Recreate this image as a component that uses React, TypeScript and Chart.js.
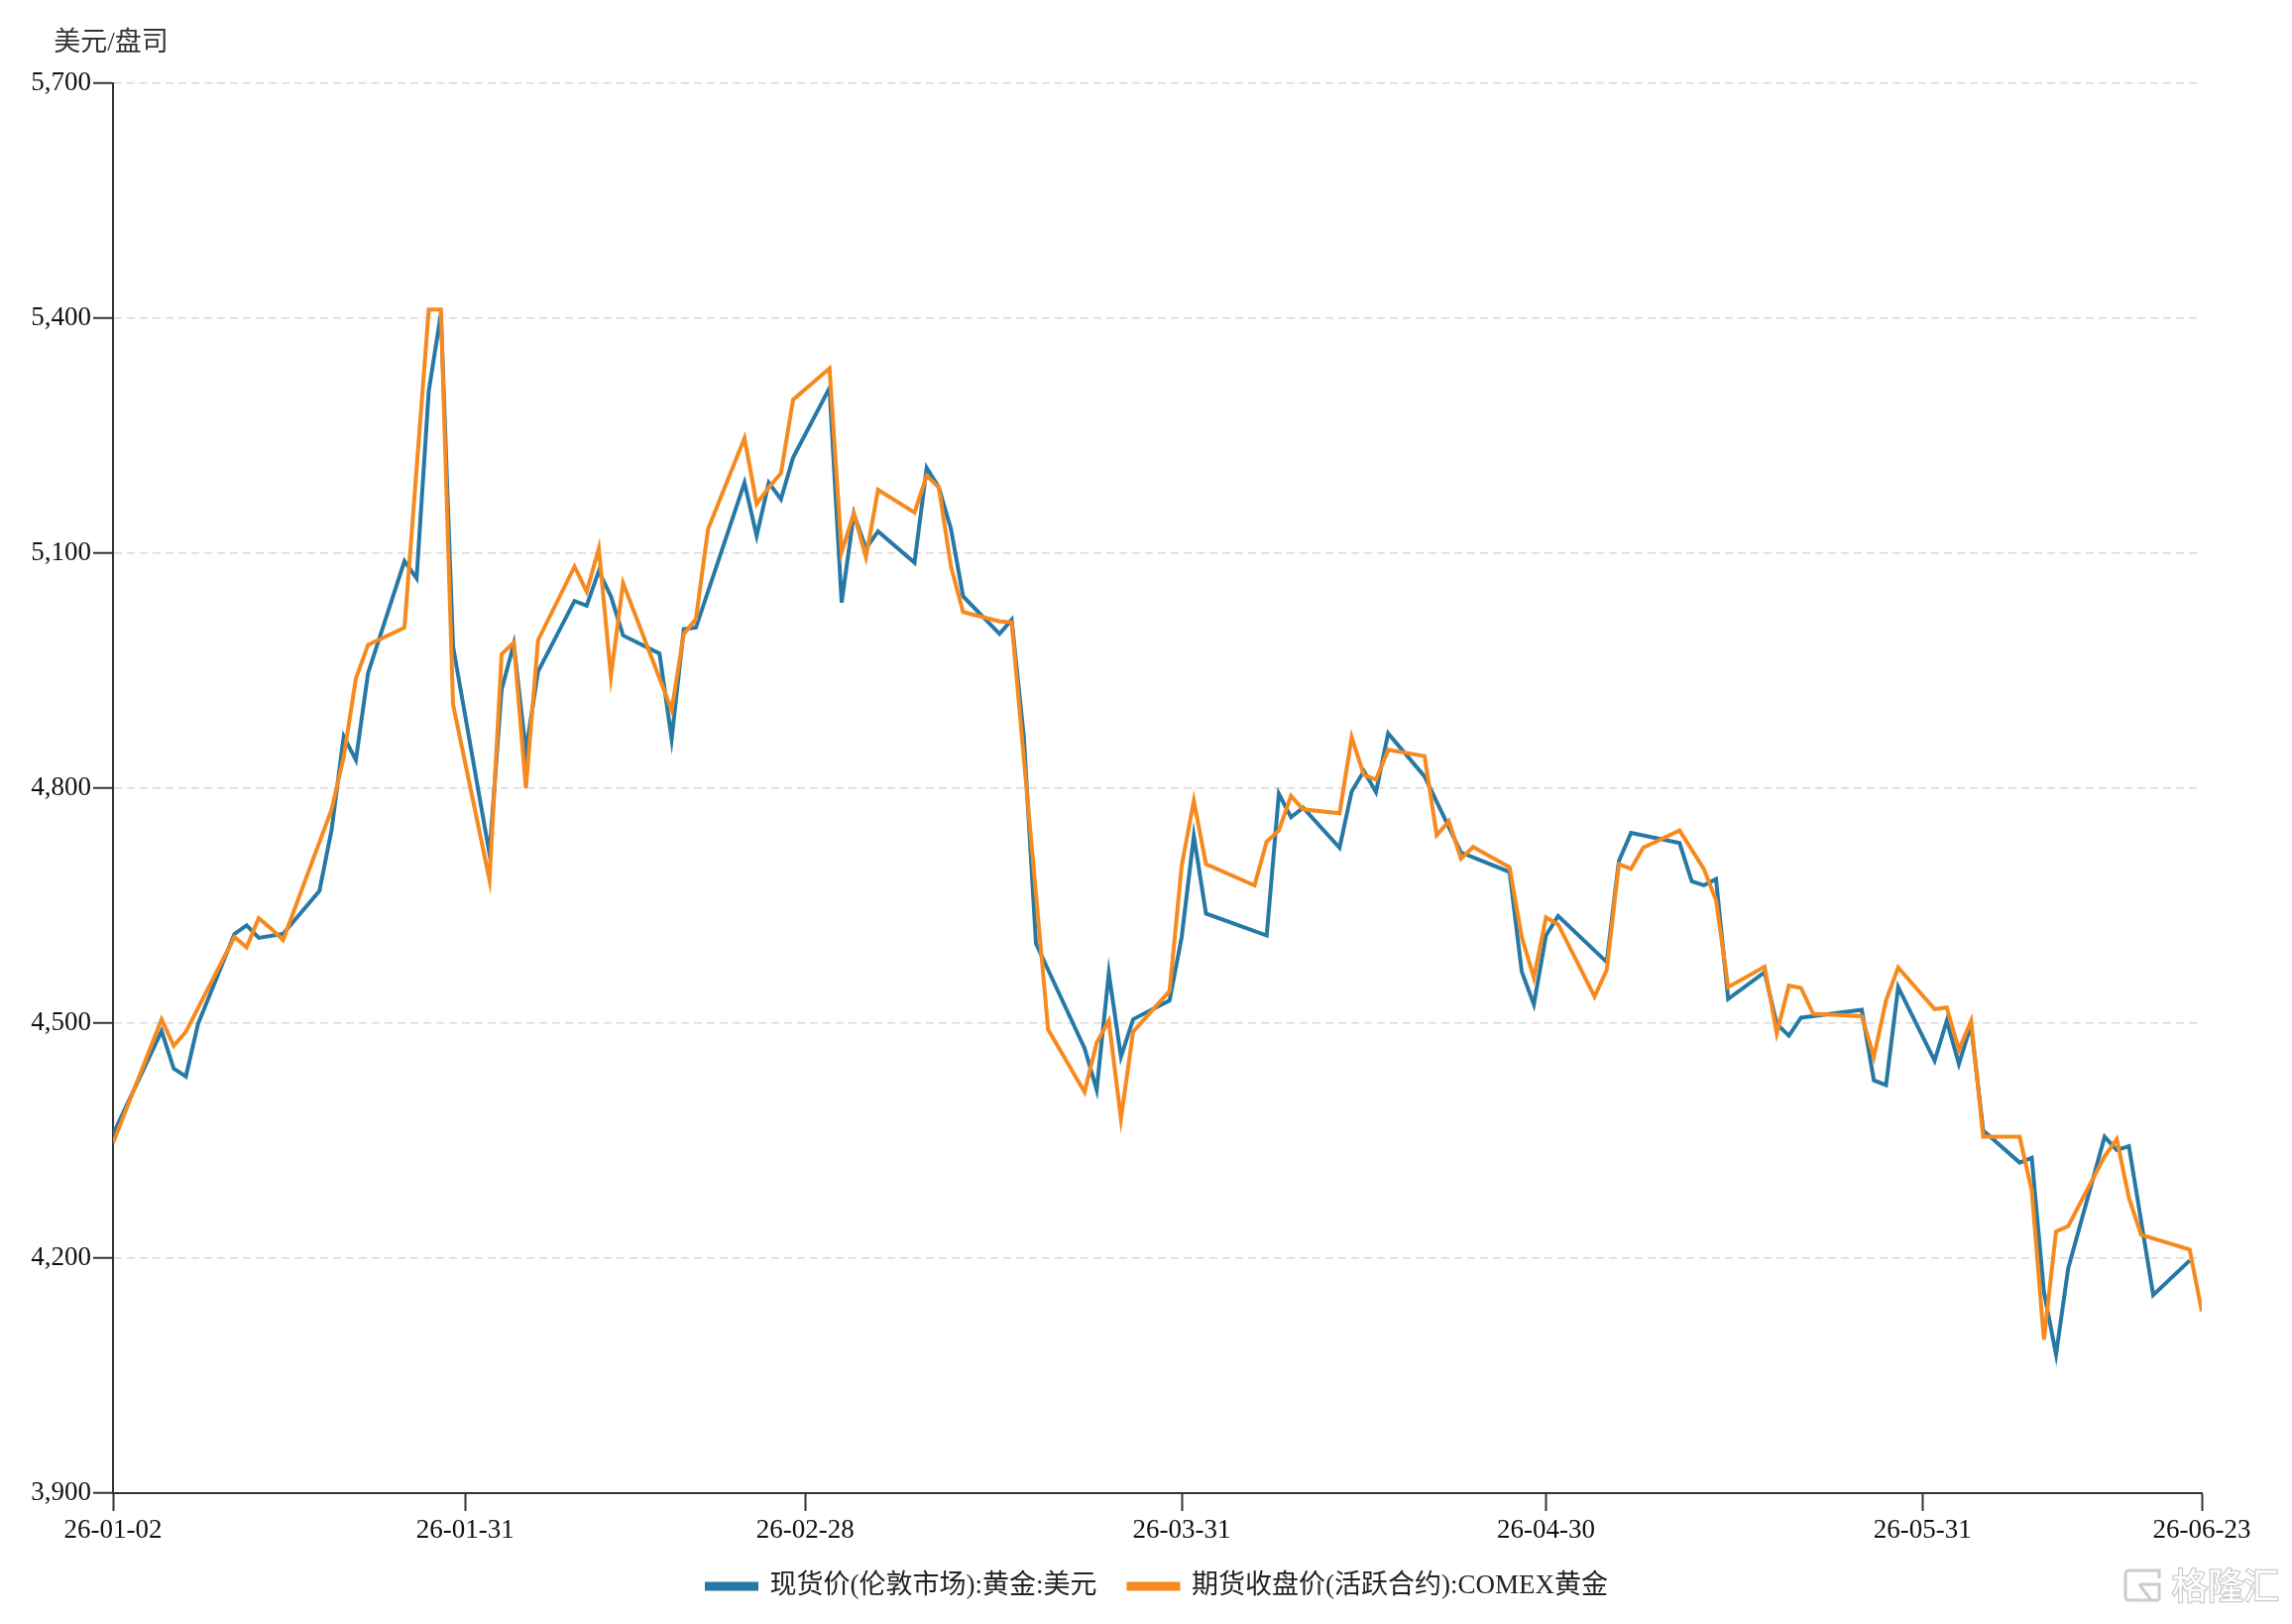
import React, { useEffect, useRef } from 'react';
import { Chart, registerables } from 'chart.js';

Chart.register(...registerables);

// ---- data ----
const dates = [
  '2026-01-02', '2026-01-06', '2026-01-07', '2026-01-08', '2026-01-09', '2026-01-12', '2026-01-13', '2026-01-14', '2026-01-15', '2026-01-16',
  '2026-01-19', '2026-01-20', '2026-01-21', '2026-01-22', '2026-01-23', '2026-01-26', '2026-01-27', '2026-01-28', '2026-01-29', '2026-01-30',
  '2026-02-02', '2026-02-03', '2026-02-04', '2026-02-05', '2026-02-06', '2026-02-09', '2026-02-10', '2026-02-11', '2026-02-12', '2026-02-13',
  '2026-02-16', '2026-02-17', '2026-02-18', '2026-02-19', '2026-02-20', '2026-02-23', '2026-02-24', '2026-02-25', '2026-02-26', '2026-02-27',
  '2026-03-02', '2026-03-03', '2026-03-04', '2026-03-05', '2026-03-06', '2026-03-09', '2026-03-10', '2026-03-11', '2026-03-12', '2026-03-13',
  '2026-03-16', '2026-03-17', '2026-03-18', '2026-03-19', '2026-03-20', '2026-03-23', '2026-03-24', '2026-03-25', '2026-03-26', '2026-03-27',
  '2026-03-30', '2026-03-31',
  '2026-04-01', '2026-04-02', '2026-04-06', '2026-04-07', '2026-04-08', '2026-04-09', '2026-04-10', '2026-04-13', '2026-04-14', '2026-04-15',
  '2026-04-16', '2026-04-17', '2026-04-20', '2026-04-21', '2026-04-22', '2026-04-23', '2026-04-24', '2026-04-27', '2026-04-28', '2026-04-29',
  '2026-04-30',
  '2026-05-01', '2026-05-04', '2026-05-05', '2026-05-06', '2026-05-07', '2026-05-08', '2026-05-11', '2026-05-12', '2026-05-13', '2026-05-14',
  '2026-05-15', '2026-05-18', '2026-05-19', '2026-05-20', '2026-05-21', '2026-05-22', '2026-05-26', '2026-05-27', '2026-05-28', '2026-05-29',
  '2026-06-01', '2026-06-02', '2026-06-03', '2026-06-04', '2026-06-05', '2026-06-08', '2026-06-09', '2026-06-10', '2026-06-11', '2026-06-12',
  '2026-06-15', '2026-06-16', '2026-06-17', '2026-06-18', '2026-06-19', '2026-06-22', '2026-06-23',
];

// 现货价(伦敦市场):黄金:美元
const spotLondon: (number | null)[] = [
  4358, 4490, 4442, 4432, 4499, 4614, 4625, 4609, null, 4614,
  4669, 4747, 4866, 4836, 4947, 5090, 5068, 5307, 5406, 4981,
  4716, 4926, 4984, 4847, 4949, 5039, 5033, 5077, 5045, 4995,
  4972, 4863, 5003, 5005, null, 5190, 5122, 5190, 5169, 5222,
  5311, 5037, 5150, 5106, 5128, 5088, 5209, 5184, 5131, 5045,
  4997, 5015, 4866, 4602, 4568, 4468, 4415, 4564, 4457, 4505,
  4529, 4610,
  4739, 4640, null, 4612, 4793, 4763, 4775, 4724, 4796, 4822,
  4795, 4870, 4815, null, null, 4718, null, 4693, 4566, 4524,
  4612,
  4637, null, 4578, 4707, 4743, null, 4730, 4681, 4676, 4684,
  4531, 4565, 4499, 4484, 4507, null, 4517, 4427, 4421, 4546,
  4452, 4503, 4448, 4498, 4363, 4322, 4328, 4157, 4077, 4187,
  4355, 4338, 4343, null, 4153, 4197, null,
];

// 期货收盘价(活跃合约):COMEX黄金
const comexFutures: (number | null)[] = [
  4347, 4505, 4471, 4489, null, 4610, 4597, 4634, 4621, 4606,
  null, 4773, 4840, 4940, 4983, 5005, null, 5411, 5411, 4907,
  4683, 4971, 4986, 4800, 4989, 5083, 5051, 5106, 4943, 5062,
  null, 4900, 4997, 5016, 5131, 5247, 5163, 5184, 5202, 5296,
  5336, 5101, 5151, 5095, 5181, 5152, 5199, 5184, 5083, 5025,
  5013, 5012, null, null, 4492, 4412, 4475, 4503, 4378, 4489,
  4541, 4701,
  4784, 4703, 4676, 4732, 4746, 4790, 4773, 4768, 4865, 4817,
  4811, 4849, 4841, 4740, 4758, 4710, 4725, 4699, 4610, 4558,
  4635,
  4626, 4534, 4568, 4703, 4697, 4724, 4746, null, 4697, 4657,
  4546, 4572, 4487, 4548, 4545, 4512, 4509, 4457, 4529, 4571,
  4518, 4520, 4466, 4503, 4355, 4355, 4286, 4096, 4234, 4241,
  4330, 4352, 4277, 4230, null, 4211, 4132,
];

const seriesNames = ['现货价(伦敦市场):黄金:美元', '期货收盘价(活跃合约):COMEX黄金'];
const xTickLabels = ['26-01-02', '26-01-31', '26-02-28', '26-03-31', '26-04-30', '26-05-31', '26-06-23'];
const yMin = 3900;
const yMax = 5700;
const yStep = 300;
const unitLabel = '美元/盘司';
const watermark = '格隆汇';

// ---- helpers ----
const FONT = '"Liberation Serif", "Times New Roman", "Noto Sans CJK SC", serif';
const parseDay = (s: string) => {
  const [y, m, d] = s.split('-').map(Number);
  return Date.UTC(y, m - 1, d) / 86400000;
};
const baseDay = parseDay(dates[0]);
const toX = (s: string) => parseDay(s) - baseDay;
const tickDays = xTickLabels.map((l) => toX('20' + l));
const tickLabelMap: Record<number, string> = {};
tickDays.forEach((d, i) => (tickLabelMap[d] = xTickLabels[i]));

const buildSeries = (vals: (number | null)[]) =>
  dates
    .map((d, i) => ({ x: toX(d), y: vals[i] }))
    .filter((p) => p.y !== null && p.y !== undefined);

const BLUE = '#2779a5';
const ORANGE = '#f68a1e';

const extrasPlugin = {
  id: 'extras',
  afterDraw(chart: any) {
    const { ctx, chartArea } = chart;
    ctx.save();
    // unit label above y-axis
    ctx.fillStyle = '#333';
    ctx.font = `27px ${FONT}`;
    ctx.textAlign = 'center';
    ctx.textBaseline = 'middle';
    ctx.fillText(unitLabel, chartArea.left - 2, 44);

    // watermark
    ctx.strokeStyle = '#cccccc';
    ctx.fillStyle = '#ffffff';
    ctx.lineWidth = 3;
    const bx = 2144, by = 1584, bw = 34, bh = 30;
    ctx.beginPath();
    ctx.moveTo(bx + 4, by);
    ctx.lineTo(bx + bw, by);
    ctx.lineTo(bx + bw, by + 8);
    ctx.moveTo(bx + bw, by + bh);
    ctx.lineTo(bx + 4, by + bh);
    ctx.quadraticCurveTo(bx, by + bh, bx, by + bh - 4);
    ctx.lineTo(bx, by + 4);
    ctx.quadraticCurveTo(bx, by, bx + 4, by);
    ctx.moveTo(bx + 14, by + 14);
    ctx.lineTo(bx + bw, by + 14);
    ctx.lineTo(bx + bw, by + bh);
    ctx.moveTo(bx + 14, by + 14);
    ctx.lineTo(bx + 26, by + bh);
    ctx.stroke();
    ctx.font = '36px "Noto Sans CJK SC", sans-serif';
    ctx.textAlign = 'left';
    ctx.textBaseline = 'middle';
    ctx.lineWidth = 2.5;
    ctx.strokeText(watermark, 2191, 1599);
    ctx.fillText(watermark, 2191, 1599);
    ctx.restore();
  },
};

export default function App() {
  const ref = useRef<HTMLCanvasElement>(null);

  useEffect(() => {
    document.body.style.margin = '0';
    const canvas = ref.current;
    if (!canvas) return;
    const chart = new Chart(canvas, {
      type: 'line',
      data: {
        datasets: [
          {
            label: seriesNames[0],
            data: buildSeries(spotLondon),
            borderColor: BLUE,
            backgroundColor: BLUE,
            borderWidth: 4,
            pointRadius: 0,
            tension: 0,
            order: 2,
          },
          {
            label: seriesNames[1],
            data: buildSeries(comexFutures),
            borderColor: ORANGE,
            backgroundColor: ORANGE,
            borderWidth: 4,
            pointRadius: 0,
            tension: 0,
            order: 1,
          },
        ],
      },
      options: {
        responsive: false,
        animation: false,
        devicePixelRatio: 1,
        parsing: false as any,
        normalized: true,
        layout: { padding: { top: 84, left: 0, right: 91, bottom: 14.5 } },
        plugins: {
          legend: {
            position: 'bottom',
            fullSize: false,
            labels: {
              boxWidth: 50,
              boxHeight: 5,
              padding: 32,
              color: '#222',
              font: { size: 27, family: FONT },
              sort: (a: any, b: any) => a.datasetIndex - b.datasetIndex,
            },
          },
          tooltip: { enabled: false },
        },
        scales: {
          x: {
            type: 'linear',
            min: tickDays[0],
            max: tickDays[tickDays.length - 1],
            afterBuildTicks: (scale: any) => {
              scale.ticks = tickDays.map((v) => ({ value: v }));
            },
            afterFit: (scale: any) => {
              scale.height = 48.5;
            },
            grid: {
              drawOnChartArea: false,
              drawTicks: true,
              tickLength: 18,
              tickColor: '#333',
              tickWidth: 2,
              tickBorderDash: [],
            },
            border: { color: '#333', width: 2 },
            ticks: {
              autoSkip: false,
              maxRotation: 0,
              padding: 4,
              color: '#111',
              font: { size: 27, family: FONT },
              callback: (v: any) => tickLabelMap[Number(v)] ?? '',
            },
          },
          y: {
            min: yMin,
            max: yMax,
            afterFit: (scale: any) => {
              scale.width = 114;
            },
            ticks: {
              stepSize: yStep,
              padding: 2,
              color: '#111',
              font: { size: 27, family: FONT },
              callback: (v: any) => Number(v).toLocaleString('en-US'),
            },
            grid: {
              color: '#d9d9d9',
              lineWidth: 1.5,
              tickColor: '#333',
              tickLength: 20,
              tickWidth: 2,
              tickBorderDash: [],
            },
            border: { color: '#333', width: 2, dash: [8, 5] },
          },
        },
      },
      plugins: [extrasPlugin],
    } as any);
    return () => chart.destroy();
  }, []);

  return (
    <div style={{ width: 2312, height: 1638, background: '#fff' }}>
      <canvas ref={ref} width={2312} height={1638} style={{ display: 'block' }} />
    </div>
  );
}
